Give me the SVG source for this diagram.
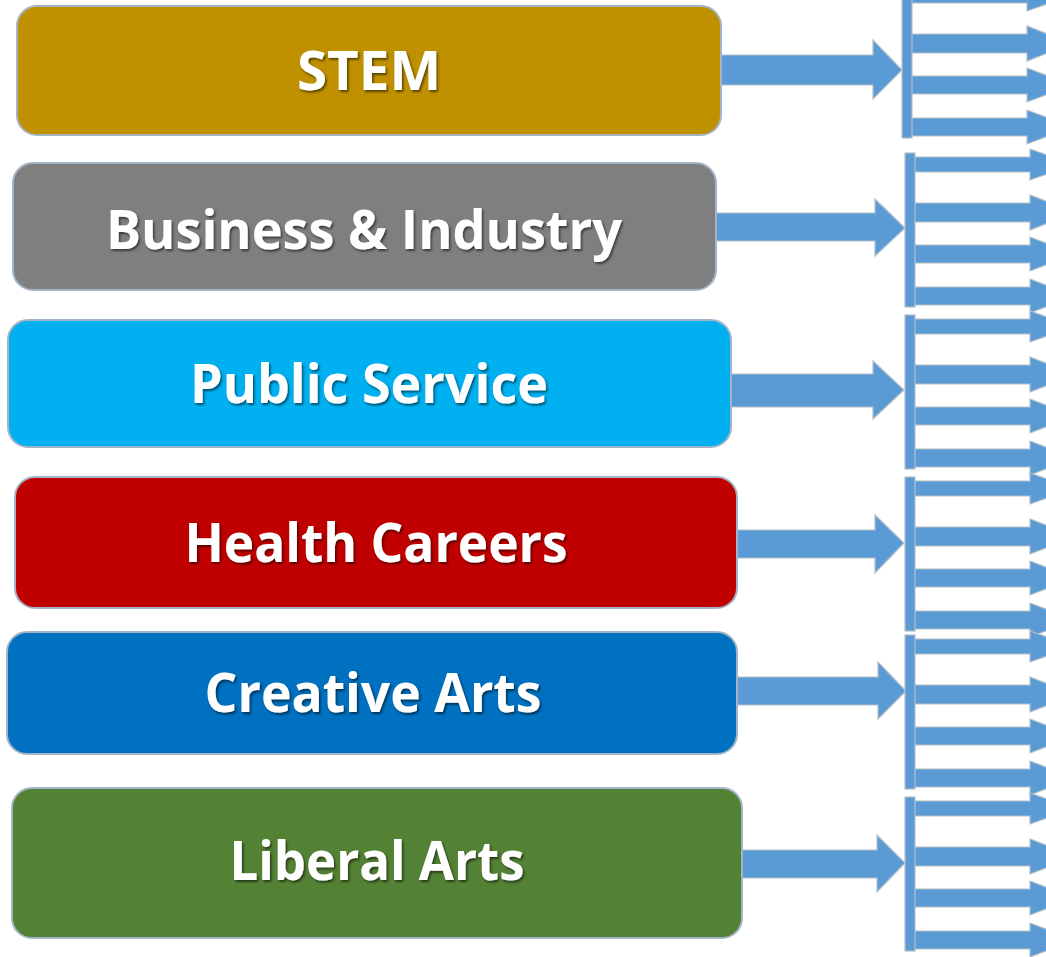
<svg xmlns="http://www.w3.org/2000/svg" xmlns:xlink="http://www.w3.org/1999/xlink" width="1046" height="957" viewBox="0 0 1046 957">
<style>
.box{stroke:#a3b4c6;stroke-width:2}
.lbl{font-family:"Open Sans","Liberation Sans",sans-serif;font-weight:bold;font-size:54px;fill:#ffffff;text-anchor:middle;filter:url(#ts)}
.arr{fill:#5b9bd5;stroke:#b4bfca;stroke-width:1.2;stroke-linejoin:miter}
</style>
<defs>
<filter id="ts" x="-10%" y="-30%" width="120%" height="160%">
<feDropShadow dx="1.5" dy="2" stdDeviation="1.3" flood-color="#000" flood-opacity="0.55"/>
</filter>
<g id="rack">
<polygon class="arr" points="8,4 125,4 125,-4 170,11.5 125,27 125,19 8,19"/>
<polygon class="arr" points="8,50 125,50 125,42 170,59.5 125,77 125,69 8,69"/>
<polygon class="arr" points="8,92 125,92 125,84 170,101 125,118 125,110 8,110"/>
<polygon class="arr" points="8,134 125,134 125,126 170,143 125,160 125,152 8,152"/>
<rect class="arr" x="0" y="0" width="10" height="154"/>
</g>
</defs>
<rect width="1046" height="957" fill="#ffffff"/>

<g id="connectors">
<polygon class="arr" points="718,55 873,55 873,40 902,70 873,99 873,85 718,85"/>
<polygon class="arr" points="714,213 875,213 875,199 905,228 875,256 875,241 714,241"/>
<polygon class="arr" points="729,374 873,374 873,361 904,390 873,419 873,407 729,407"/>
<polygon class="arr" points="735,530 875,530 875,515 904,543 875,573 875,558 735,558"/>
<polygon class="arr" points="735,677 878,677 878,662 906,691 878,719 878,705 735,705"/>
<polygon class="arr" points="740,850 877,850 877,835 905,863 877,892 877,878 740,878"/>
</g>

<g id="branch-stem"><use xlink:href="#rack" href="#rack" transform="translate(902,-16)"/></g>
<g id="branch-business"><use xlink:href="#rack" href="#rack" transform="translate(905,153)"/></g>
<g id="branch-public"><use xlink:href="#rack" href="#rack" transform="translate(905,315)"/></g>
<g id="branch-health"><use xlink:href="#rack" href="#rack" transform="translate(905,477)"/></g>
<g id="branch-creative"><use xlink:href="#rack" href="#rack" transform="translate(905,635)"/></g>
<g id="branch-liberal"><use xlink:href="#rack" href="#rack" transform="translate(905,797)"/></g>

<g id="stem">
<rect class="box" x="17" y="6" width="704" height="129" rx="20" fill="#bf9000"/>
<text class="lbl" x="369" y="90" textLength="144" lengthAdjust="spacingAndGlyphs">STEM</text>
</g>
<g id="business">
<rect class="box" x="13" y="163" width="703" height="127" rx="20" fill="#7f7f7f"/>
<text class="lbl" x="364" y="249" textLength="516" lengthAdjust="spacingAndGlyphs">Business &amp; Industry</text>
</g>
<g id="public">
<rect class="box" x="8" y="320" width="723" height="127" rx="20" fill="#00b0f0"/>
<text class="lbl" x="369" y="403" textLength="358" lengthAdjust="spacingAndGlyphs">Public Service</text>
</g>
<g id="health">
<rect class="box" x="15" y="477" width="722" height="131" rx="20" fill="#c00000"/>
<text class="lbl" x="376" y="562" textLength="383" lengthAdjust="spacingAndGlyphs">Health Careers</text>
</g>
<g id="creative">
<rect class="box" x="7" y="632" width="730" height="122" rx="20" fill="#0070c0"/>
<text class="lbl" x="373" y="712" textLength="337" lengthAdjust="spacingAndGlyphs">Creative Arts</text>
</g>
<g id="liberal">
<rect class="box" x="12" y="788" width="730" height="150" rx="20" fill="#548235"/>
<text class="lbl" x="377" y="880" textLength="295" lengthAdjust="spacingAndGlyphs">Liberal Arts</text>
</g>
</svg>
